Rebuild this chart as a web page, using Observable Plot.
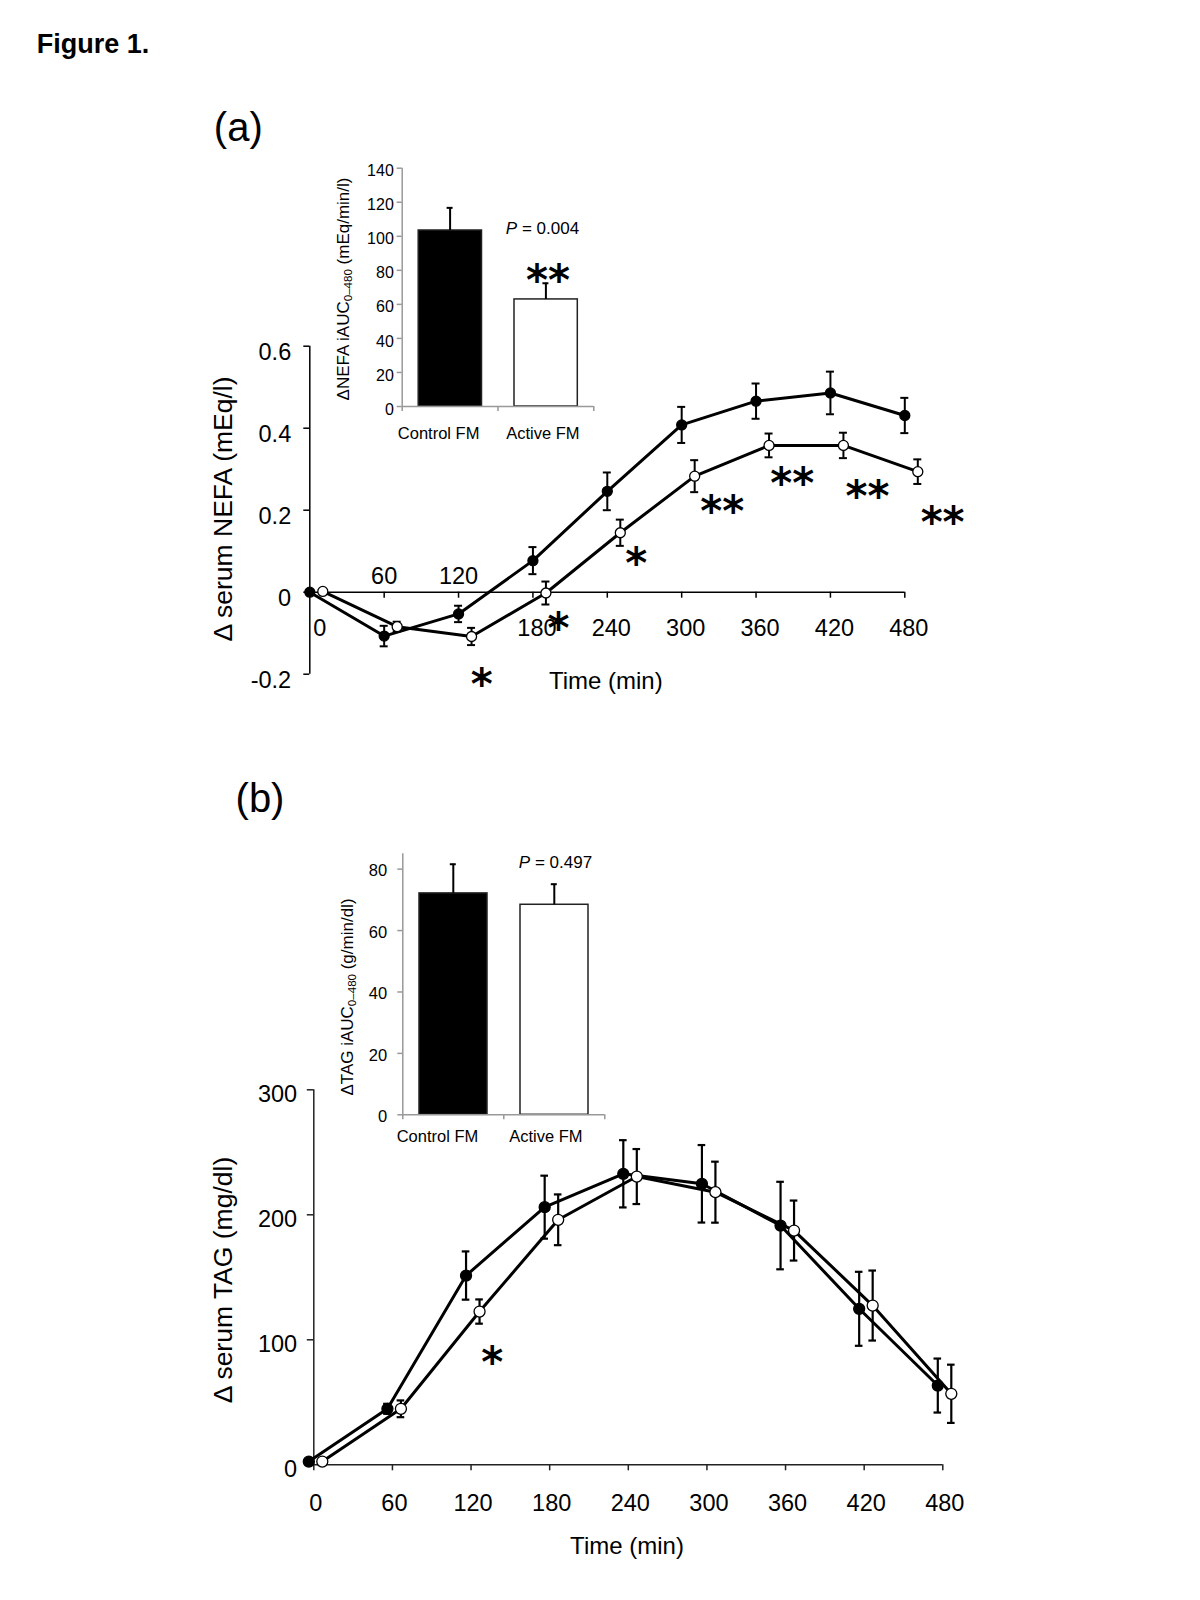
<!DOCTYPE html>
<html><head><meta charset="utf-8">
<script src="https://cdn.jsdelivr.net/npm/d3@7"></script>
<script src="https://cdn.jsdelivr.net/npm/@observablehq/plot@0.6"></script>
<style>
body{margin:0;background:#fff;}
#page{position:relative;width:1200px;height:1600px;overflow:hidden;font-family:"Liberation Sans",Arial,sans-serif;color:#000;background:#fff;}
.layer{position:absolute;left:0;top:0;}
.lbl{position:absolute;white-space:nowrap;line-height:1;transform:translate(-50%,-50%);}
.rot{transform:translate(-50%,-50%) rotate(-90deg);}
.lbl sub{font-size:0.68em;vertical-align:-0.3em;line-height:0;}
</style></head><body><div id="page"></div>
<script>
// ---------- data ----------
const times = [0, 60, 120, 180, 240, 300, 360, 420, 480];
const timeTicks = [0, 60, 120, 180, 240, 300, 360, 420, 480];

// (a) NEFA
const nefaTicksAbove = [60, 120];
const nefaTicksBelow = [180, 240, 300, 360, 420, 480];
const nefaYTicks = [-0.2, 0, 0.2, 0.4, 0.6];
const nefaYLabels = ["-0.2", "0", "0.2", "0.4", "0.6"];
const nefaControl   = [0, -0.107, -0.053, 0.077, 0.246, 0.408, 0.466, 0.486, 0.431];
const nefaControlSE = [0, 0.025, 0.020, 0.033, 0.046, 0.044, 0.043, 0.052, 0.043];
const nefaActive    = [0.002, -0.084, -0.108, -0.002, 0.145, 0.283, 0.358, 0.358, 0.294];
const nefaActiveSE  = [0, 0.012, 0.021, 0.028, 0.032, 0.039, 0.029, 0.031, 0.030];
const nefaStarTimes  = [138.7, 200.7, 263.4, 332.7, 389.2, 449.9, 510.5];
const nefaStarValues = [-0.201, -0.065, 0.094, 0.220, 0.289, 0.258, 0.195];
const nefaStarLabels = ["*", "*", "*", "**", "**", "**", "**"];

// (b) TAG
const tagYTicks = [0, 100, 200, 300];
const tagControl   = [2.6, 44.8, 151.4, 206.1, 232.8, 224.8, 191.4, 124.8, 63.4];
const tagControlSE = [0, 4.0, 19.3, 25.2, 26.9, 31.0, 35.0, 29.6, 21.6];
const tagActive    = [2.6, 44.8, 122.6, 196.0, 230.6, 218.1, 187.4, 127.4, 56.8];
const tagActiveSE  = [0, 6.7, 9.7, 20.3, 22.0, 24.4, 24.0, 28.0, 23.3];
const tagStarTimes  = [136.2];
const tagStarValues = [89.6];
const tagStarLabels = ["*"];

// insets
const groups = ["Control FM", "Active FM"];
const nefaAUC   = [103.4, 62.9];
const nefaAUCSE = [13.3, 9.5];
const nefaAUCTicks = [0, 20, 40, 60, 80, 100, 120, 140];
const nefaAUCStarGroup = [1];
const nefaAUCStarValues = [80];
const nefaAUCStarLabels = ["**"];
const nefaP = "0.004";
const tagAUC   = [72.1, 68.4];
const tagAUCSE = [9.5, 6.7];
const tagAUCTicks = [0, 20, 40, 60, 80];
const tagP = "0.497";

// ---------- helpers ----------
const FONT = '"Liberation Sans", Arial, sans-serif';
const STARFONT = '"DejaVu Sans", sans-serif';
const page = document.getElementById("page");
function addPlot(svg) { const d = document.createElement("div"); d.className = "layer"; d.appendChild(svg); page.appendChild(d); }
function addLabel(html, cx, cy, size, extra = "", cls = "lbl") {
  const d = document.createElement("div");
  d.className = cls; d.innerHTML = html;
  d.style.left = cx + "px"; d.style.top = cy + "px"; d.style.fontSize = size + "px";
  if (extra) d.style.cssText += extra;
  page.appendChild(d);
}
function series(vals, se) { return times.map((t, i) => ({t, v: vals[i], lo: vals[i] - se[i], hi: vals[i] + se[i], se: se[i]})); }
const baseStyle = {background: "transparent", fontFamily: FONT, overflow: "visible"};
const starStyle = {fontFamily: STARFONT, fontSize: 42, fontWeight: "bold", dy: 11, fill: "#000"};

function seriesMarks(data, dx, o) {
  const eb = data.filter(d => d.se > 0);
  return [
    Plot.ruleX(eb, {x: "t", y1: "lo", y2: "hi", dx, stroke: "#000", strokeWidth: o.ebw}),
    Plot.ruleY(eb, {y: "hi", x1: "t", x2: "t", insetLeft: -o.cap, insetRight: -o.cap, dx, stroke: "#000", strokeWidth: o.ebw}),
    Plot.ruleY(eb, {y: "lo", x1: "t", x2: "t", insetLeft: -o.cap, insetRight: -o.cap, dx, stroke: "#000", strokeWidth: o.ebw}),
    Plot.line(data, {x: "t", y: "v", dx, stroke: "#000", strokeWidth: o.lw})
  ];
}
function dotMark(data, dx, filled, r) {
  return Plot.dot(data, {x: "t", y: "v", dx, r, fill: filled ? "#000" : "#fff", stroke: "#000", strokeWidth: 1.3});
}

// ---------- (a) main ----------
{
  const c = series(nefaControl, nefaControlSE), a = series(nefaActive, nefaActiveSE);
  const o = {ebw: 2, cap: 4, lw: 3};
  addPlot(Plot.plot({
    width: 1200, height: 1600, margin: 0, style: baseStyle,
    x: {domain: [0, 480], range: [309.3, 904.3], axis: null},
    y: {domain: [-0.2, 0.6], range: [673.7, 345.7], axis: null},
    marks: [
      Plot.ruleX([0], {y1: -0.2, y2: 0.6, stroke: "#000", strokeWidth: 1.5}),
      Plot.ruleY([0], {x1: 0, x2: 480, stroke: "#000", strokeWidth: 1.5}),
      Plot.ruleX(timeTicks.slice(1), {x: d => d, y1: 0, y2: 0, insetBottom: -6, stroke: "#000", strokeWidth: 1.5}),
      Plot.ruleY(nefaYTicks, {y: d => d, x1: 0, x2: 0, insetLeft: -6, stroke: "#000", strokeWidth: 1.5}),
      Plot.text(nefaYTicks, {x: 0, y: d => d, text: (d, i) => nefaYLabels[i], textAnchor: "end", dx: -18.6, dy: 6, fontSize: 23.5}),
      Plot.text(nefaTicksAbove, {x: d => d, y: 0, text: d => String(d), dy: -15.7, fontSize: 23.5}),
      Plot.text(nefaTicksBelow, {x: d => d, y: 0, text: d => String(d), dx: 4, dy: 36.6, fontSize: 23.5}),
      Plot.text([0], {x: d => d, y: 0, text: d => String(d), dx: 10, dy: 36.6, fontSize: 23.5}),
      ...seriesMarks(c, 0, o),
      ...seriesMarks(a, 13, o),
      dotMark(c, 0, true, 5),
      dotMark(a, 13, false, 5),
      Plot.text(nefaStarTimes.map((t, i) => i), {x: i => nefaStarTimes[i], y: i => nefaStarValues[i], text: i => nefaStarLabels[i], ...starStyle})
    ]
  }));
}

// ---------- insets ----------
function insetPlot(cfg) {
  const bars = groups.map((g, i) => ({i, g, v: cfg.vals[i], hi: cfg.vals[i] + cfg.se[i]}));
  return Plot.plot({
    width: 1200, height: 1600, margin: 0, style: baseStyle,
    x: {domain: [0, 2], range: cfg.xr, axis: null},
    y: {domain: cfg.yd, range: cfg.yr, axis: null},
    marks: [
      Plot.rect(bars.filter(d => d.i === 0), {x1: d => d.i, x2: d => d.i + 1, y1: 0, y2: "v", insetLeft: cfg.inL, insetRight: cfg.inR, fill: "#000", stroke: "#222", strokeWidth: 1.5}),
      Plot.rect(bars.filter(d => d.i === 1), {x1: d => d.i, x2: d => d.i + 1, y1: 0, y2: "v", insetLeft: cfg.inL, insetRight: cfg.inR, fill: "#fff", stroke: "#222", strokeWidth: 1.5}),
      Plot.ruleX(bars, {x: d => d.i + 0.5, y1: "v", y2: "hi", stroke: "#000", strokeWidth: 2}),
      Plot.ruleY(bars, {y: "hi", x1: d => d.i + 0.5, x2: d => d.i + 0.5, insetLeft: -3, insetRight: -3, stroke: "#000", strokeWidth: 2}),
      Plot.ruleX([0], {y1: 0, y2: cfg.yd[1], stroke: "#999", strokeWidth: 1.5}),
      Plot.ruleY([0], {x1: 0, x2: 2, stroke: "#999", strokeWidth: 1.5}),
      Plot.ruleX([0, 1, 2], {x: d => d, y1: 0, y2: 0, insetBottom: -5, stroke: "#999", strokeWidth: 1.5}),
      Plot.ruleY(cfg.ticks, {y: d => d, x1: 0, x2: 0, insetLeft: -5, stroke: "#999", strokeWidth: 1.5}),
      Plot.text(cfg.ticks, {x: 0, y: d => d, text: d => String(d), textAnchor: "end", dx: cfg.tdx, dy: cfg.tdy, fontSize: cfg.tfs}),
      Plot.text(bars.filter(d => d.i === 0), {x: d => d.i + 0.5, y: 0, text: "g", dx: cfg.gdx[0], dy: cfg.gdy, fontSize: 16.5}),
      Plot.text(bars.filter(d => d.i === 1), {x: d => d.i + 0.5, y: 0, text: "g", dx: cfg.gdx[1], dy: cfg.gdy, fontSize: 16.5}),
      ...(cfg.stars ? [Plot.text(cfg.stars.g.map((g, k) => k), {x: k => cfg.stars.g[k] + 0.5, y: k => cfg.stars.v[k], text: k => cfg.stars.l[k], ...starStyle, dx: 2})] : [])
    ]
  });
}
addPlot(insetPlot({vals: nefaAUC, se: nefaAUCSE, xr: [401.7, 593.3], yd: [0, 140], yr: [406, 167.7], ticks: nefaAUCTicks,
  inL: 16.5, inR: 16, tdx: -8.4, tdy: 3, tfs: 16, gdy: 27.3, gdx: [-11.5, -3],
  stars: {g: nefaAUCStarGroup, v: nefaAUCStarValues, l: nefaAUCStarLabels}}));

// ---------- (b) main ----------
{
  const c = series(tagControl, tagControlSE), a = series(tagActive, tagActiveSE);
  const o = {ebw: 2.2, cap: 3.8, lw: 3};
  addPlot(Plot.plot({
    width: 1200, height: 1600, margin: 0, style: baseStyle,
    x: {domain: [0, 480], range: [313.3, 942.3], axis: null},
    y: {domain: [0, 300], range: [1464.3, 1089.3], axis: null},
    marks: [
      Plot.ruleX([0], {y1: 0, y2: 300, stroke: "#222", strokeWidth: 1.5}),
      Plot.ruleY([0], {x1: 0, x2: 480, stroke: "#222", strokeWidth: 1.5}),
      Plot.ruleX(timeTicks, {x: d => d, y1: 0, y2: 0, insetBottom: -6, stroke: "#222", strokeWidth: 1.5}),
      Plot.ruleY(tagYTicks, {y: d => d, x1: 0, x2: 0, insetLeft: -6.5, stroke: "#222", strokeWidth: 1.5}),
      Plot.text(tagYTicks, {x: 0, y: d => d, text: d => String(d), textAnchor: "end", dx: -16.6, dy: 5, fontSize: 23.5}),
      Plot.text(timeTicks, {x: d => d, y: 0, text: d => String(d), dx: 2, dy: 39, fontSize: 23.5}),
      ...seriesMarks(c, -5, o),
      ...seriesMarks(a, 8.5, o),
      dotMark(c, -5, true, 5.5),
      dotMark(a, 8.5, false, 5.5),
      Plot.text(tagStarTimes.map((t, i) => i), {x: i => tagStarTimes[i], y: i => tagStarValues[i], text: i => tagStarLabels[i], ...starStyle})
    ]
  }));
}

addPlot(insetPlot({vals: tagAUC, se: tagAUCSE, xr: [402.3, 604.3], yd: [0, 85], yr: [1114.3, 853.3], ticks: tagAUCTicks,
  inL: 16.7, inR: 16.3, tdx: -15.6, tdy: 2, tfs: 16.5, gdy: 22.4, gdx: [-15.8, -8.5], stars: null}));

// ---------- text labels ----------
addLabel("Figure 1.", 36.7, 44.3, 27, "transform:translate(0,-50%);font-weight:bold;");
addLabel("(a)", 238.3, 126.5, 40);
addLabel("(b)", 260, 798, 40);
addLabel("Δ serum NEFA (mEq/l)", 223, 509, 26.5, "", "lbl rot");
addLabel("Time (min)", 605.8, 681, 24);
addLabel("Δ serum TAG (mg/dl)", 223, 1280, 26.5, "", "lbl rot");
addLabel("Time (min)", 627, 1546, 24);
addLabel("ΔNEFA iAUC<sub>0–480</sub> (mEq/min/l)", 343.3, 289, 17, "", "lbl rot");
addLabel("ΔTAG iAUC<sub>0–480</sub> (g/min/dl)", 346.7, 996.7, 17, "", "lbl rot");
addLabel("<i>P</i> = " + nefaP, 542.5, 227.7, 17);
addLabel("<i>P</i> = " + tagP, 555.5, 861.7, 17);
</script>
</body></html>
